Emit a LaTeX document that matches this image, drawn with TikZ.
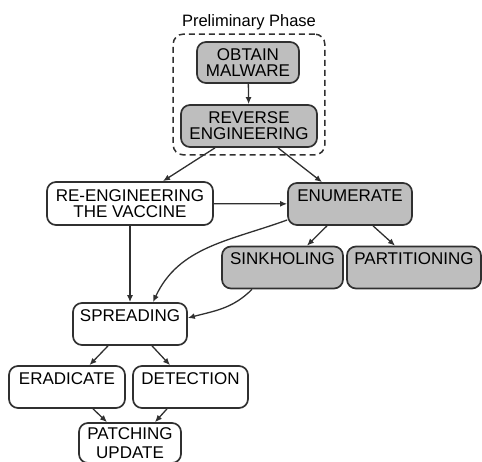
\documentclass[tikz,border=0pt]{standalone}
\usepackage{fontspec}
\setmainfont{Liberation Sans}
\usepackage{tikz}
\usetikzlibrary{arrows.meta,positioning,fit,calc}
\definecolor{LineGray}{HTML}{303030}
\definecolor{BoxGray}{HTML}{BEBEBE}

\begin{document}
\begin{tikzpicture}[
  x=1pt,y=1pt,
  font=\fontsize{17}{16}\selectfont,
  stage/.style={draw=LineGray,line width=1.7pt,rounded corners=9pt,fill=white,align=center,inner sep=2pt},
  grey/.style={fill=BoxGray},
  topbox/.style={stage,text height=18.5pt,text depth=23.5pt,inner ysep=0pt},
  phase/.style={draw=LineGray,dashed,dash pattern=on 6pt off 4pt,line width=1.5pt,rounded corners=10pt,inner sep=7pt},
  arr/.style={-{Latex[length=7pt,width=6pt]},line width=1.3pt,draw=LineGray}
]
\useasboundingbox (0,0) rectangle (482,462);
\node[stage,grey,minimum width=102pt,minimum height=41pt] (obtain) at (248,399.5) {OBTAIN\\MALWARE};
\node[stage,grey,minimum width=136pt,minimum height=42pt] (reverse) at (249,336) {REVERSE\\ENGINEERING};
\node[phase,fit=(obtain)(reverse),label={[font=\fontsize{16.5}{18}\selectfont]above:Preliminary Phase}] (prelim) {};
\node[stage,minimum width=166pt,minimum height=43pt] (reeng) at (130,258.5) {RE-ENGINEERING\\THE VACCINE};
\node[topbox,grey,minimum width=124pt] (enum) at (350,258) {ENUMERATE};
\node[topbox,grey,minimum width=121pt] (sink) at (282.5,194.5) {SINKHOLING};
\node[topbox,grey,minimum width=134pt] (part) at (414,194.5) {PARTITIONING};
\node[topbox,minimum width=114pt] (spread) at (130,138) {SPREADING};
\node[topbox,minimum width=116pt] (erad) at (67,75) {ERADICATE};
\node[topbox,minimum width=115pt] (detect) at (190.5,75) {DETECTION};
\node[stage,minimum width=102pt,minimum height=40pt,font=\fontsize{17}{19}\selectfont] (patch) at (130,19) {PATCHING\\UPDATE};
% preliminary phase
\draw[arr] (obtain) -- (reverse);
\draw[arr] ([xshift=-34pt]reverse.south) -- ([xshift=33pt]reeng.north);
\draw[arr] ([xshift=29pt]reverse.south) -- ([xshift=-28pt]enum.north);
% response
\draw[arr] (reeng) -- (enum);
\draw[arr] (reeng) -- (spread);
\draw[arr] ([xshift=-23pt]enum.south) -- ([xshift=24.5pt]sink.north);
\draw[arr] ([xshift=23pt]enum.south) -- ([xshift=-19pt]part.north);
\draw[arr] ([yshift=-16pt]enum.west) to[out=200,in=65] ([xshift=23pt]spread.north);
\draw[arr] ([xshift=-30.5pt]sink.south) to[out=225,in=15] ([yshift=6pt]spread.east);
\draw[arr] ([xshift=-22pt]spread.south) -- ([xshift=22.5pt]erad.north);
\draw[arr] ([xshift=22pt]spread.south) -- ([xshift=-20.5pt]detect.north);
\draw[arr] ([xshift=26pt]erad.south) -- ([xshift=-23pt]patch.north);
\draw[arr] ([xshift=-23.5pt]detect.south) -- ([xshift=25pt]patch.north);
\end{tikzpicture}
\end{document}
